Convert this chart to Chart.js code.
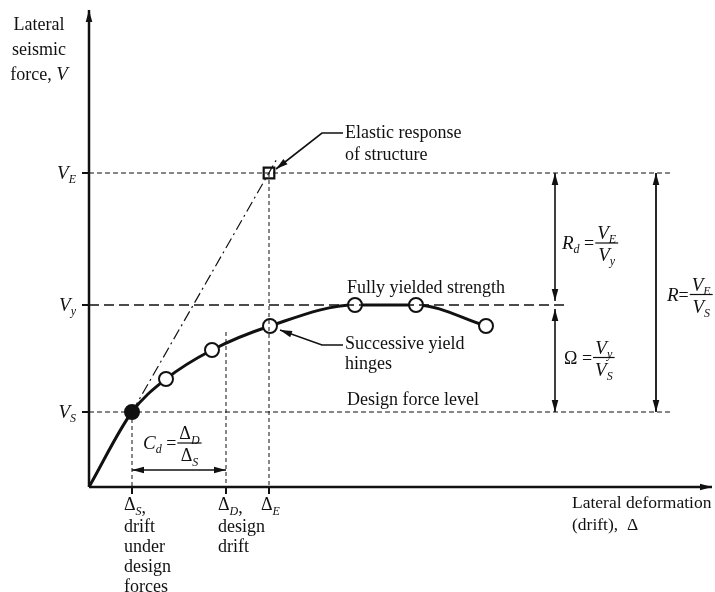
<!DOCTYPE html>
<html>
<head>
<meta charset="utf-8">
<script src="https://cdn.jsdelivr.net/npm/chart.js@4/dist/chart.umd.min.js"></script>
<style>
  html, body { margin: 0; padding: 0; background: #fff; }
</style>
</head>
<body>
<canvas id="pushover" width="715" height="592"></canvas>
<script>
// force levels (arbitrary units above the origin): V_E, V_y, V_S
const forceNames = ['E', 'y', 'S'];
const forceLevels = [314, 182, 75];
// drift levels: Δ_S, Δ_D, Δ_E
const driftNames = ['S', 'D', 'E'];
const driftLevels = [43, 137, 180];

// pushover curve: origin, first yield (V_S) and the successive hinges
const curveDrift = [0, 43, 77, 123, 181, 266, 327, 397];
const curveForce = [0, 75, 108, 137, 161, 182, 182, 161];

// elastic response line (dash-dot), through the V_S point and past V_E
const elasticDrift = [43, 189];
const elasticForce = [75, 330];

// leader lines for the callouts
const leaderElasticX = [254, 233, 187];
const leaderElasticY = [354, 354, 318];
const leaderHingeX = [254, 233, 191];
const leaderHingeY = [142, 142, 157];

// extents of the construction lines
const axisTop = 477;
const axisRight = 623;
const levelLineEnd = [583, 478, 583];
const ratioArrowX = [466, 567];
const designDriftTop = 155;
const cdArrowForce = 17;

const INK = '#111';
const SERIF = '"Liberation Serif", "DejaVu Serif", serif';
const F = s => `${s}px ${SERIF}`;
const FI = s => `italic ${s}px ${SERIF}`;
const TXT = 18;

const pts = (xs, ys) => xs.map((x, i) => ({ x: x, y: ys[i] }));
const seg = (x0, y0, x1, y1) => [{ x: x0, y: y0 }, { x: x1, y: y1 }];

function line(data, extra) {
  return Object.assign({
    data: data, showLine: true, borderColor: INK, borderWidth: 1.2,
    pointRadius: 0, pointHoverRadius: 0, tension: 0
  }, extra || {});
}

const datasets = [];
// axes
datasets.push(line(seg(0, 0, 0, axisTop), { borderWidth: 2.5, arrows: 'end' }));
datasets.push(line(seg(0, 0, axisRight, 0), { borderWidth: 2.5, arrows: 'end' }));
// axis ticks
forceLevels.forEach(f => datasets.push(line(seg(-7, f, 0, f), { borderWidth: 2 })));
driftLevels.forEach(d => datasets.push(line(seg(d, 0, d, -7), { borderWidth: 2 })));
// horizontal force levels
forceLevels.forEach((f, i) => datasets.push(line(seg(0, f, levelLineEnd[i], f), {
  borderDash: i === 1 ? [10, 5] : [5, 3], borderWidth: i === 1 ? 1.5 : 1.2
})));
// vertical drift levels
datasets.push(line(seg(driftLevels[0], forceLevels[2], driftLevels[0], 0), { borderDash: [4, 3], borderWidth: 1 }));
datasets.push(line(seg(driftLevels[1], designDriftTop, driftLevels[1], 0), { borderDash: [4, 3], borderWidth: 1 }));
datasets.push(line(seg(driftLevels[2], forceLevels[0], driftLevels[2], 0), { borderDash: [4, 3], borderWidth: 1 }));
// elastic response
datasets.push(line(pts(elasticDrift, elasticForce), { borderDash: [11, 4, 2, 4], borderWidth: 1.2 }));
// ratio arrows
datasets.push(line(seg(ratioArrowX[0], forceLevels[0], ratioArrowX[0], forceLevels[1] + 4), { arrows: 'both', borderWidth: 1.6 }));
datasets.push(line(seg(ratioArrowX[0], forceLevels[1] - 4, ratioArrowX[0], forceLevels[2]), { arrows: 'both', borderWidth: 1.6 }));
datasets.push(line(seg(ratioArrowX[1], forceLevels[0], ratioArrowX[1], forceLevels[2]), { arrows: 'both', borderWidth: 1.8 }));
datasets.push(line(seg(driftLevels[0], cdArrowForce, driftLevels[1], cdArrowForce), { arrows: 'both', borderWidth: 1.6 }));
// leaders
datasets.push(line(pts(leaderElasticX, leaderElasticY), { arrows: 'end', borderWidth: 1.6 }));
datasets.push(line(pts(leaderHingeX, leaderHingeY), { arrows: 'end', borderWidth: 1.6 }));
// pushover curve with hinges
datasets.push(line(pts(curveDrift, curveForce), {
  borderWidth: 3, cubicInterpolationMode: 'monotone',
  pointRadius: curveDrift.map((d, i) => i === 0 ? 0 : 7),
  pointBackgroundColor: curveDrift.map((d, i) => i === 1 ? INK : '#fff'),
  pointBorderColor: INK, pointBorderWidth: 2
}));
// elastic response point
datasets.push({
  data: [{ x: driftLevels[2], y: forceLevels[0] }], showLine: false,
  pointStyle: 'rect', pointRadius: 7.5, pointBackgroundColor: '#fff',
  pointBorderColor: INK, pointBorderWidth: 2.2
});

const arrowHeads = {
  id: 'arrowHeads',
  afterDatasetsDraw(chart) {
    const ctx = chart.ctx;
    chart.data.datasets.forEach((ds, i) => {
      if (!ds.arrows) return;
      const p = chart.getDatasetMeta(i).data;
      const head = (from, to) => {
        const a = Math.atan2(to.y - from.y, to.x - from.x);
        ctx.save();
        ctx.translate(to.x, to.y);
        ctx.rotate(a);
        ctx.beginPath();
        ctx.moveTo(0, 0);
        ctx.lineTo(-12, -3.3);
        ctx.lineTo(-12, 3.3);
        ctx.closePath();
        ctx.fillStyle = INK;
        ctx.fill();
        ctx.restore();
      };
      const n = p.length;
      head(p[n - 2], p[n - 1]);
      if (ds.arrows === 'both') head(p[1], p[0]);
    });
  }
};

function runWidth(ctx, parts) {
  let w = 0;
  parts.forEach(p => { ctx.font = p[1]; w += ctx.measureText(p[0]).width; });
  return w;
}
function run(ctx, parts, x, y, align) {
  const w = runWidth(ctx, parts);
  if (align === 'center') x -= w / 2;
  else if (align === 'right') x -= w;
  parts.forEach(p => {
    ctx.font = p[1];
    ctx.fillText(p[0], x, y + (p[2] || 0));
    x += ctx.measureText(p[0]).width;
  });
  return w;
}
const V = sub => [['V', FI(19)], [sub, FI(12), 4]];
const D = sub => [['Δ', F(18)], [sub, FI(12), 5]];
function frac(ctx, num, den, x, bar) {
  const w = Math.max(runWidth(ctx, num), runWidth(ctx, den)) + 4;
  run(ctx, num, x + w / 2, bar - 4, 'center');
  run(ctx, den, x + w / 2, bar + 18, 'center');
  ctx.fillRect(x, bar - 0.6, w, 1.2);
  return w;
}
function formula(ctx, lhs, num, den, x, bar) {
  const w = run(ctx, lhs, x, bar + 6);
  frac(ctx, num, den, x + w + 1, bar);
}

const labels = {
  id: 'labels',
  afterDraw(chart) {
    const ctx = chart.ctx;
    const X = v => chart.scales.x.getPixelForValue(v);
    const Y = v => chart.scales.y.getPixelForValue(v);
    ctx.save();
    ctx.fillStyle = INK;
    ctx.textBaseline = 'alphabetic';

    // vertical axis title
    const tx = X(0) - 50, ty = Y(axisTop);
    run(ctx, [['Lateral', F(TXT)]], tx, ty + 20, 'center');
    run(ctx, [['seismic', F(TXT)]], tx, ty + 45, 'center');
    run(ctx, [['force, ', F(TXT)], ['V', FI(19)]], tx, ty + 70, 'center');

    // force level names
    forceLevels.forEach((f, i) => run(ctx, V(forceNames[i]), X(0) - 13, Y(f) + 6, 'right'));

    // drift level names
    driftLevels.forEach((d, i) => {
      const parts = D(driftNames[i]).concat(i < 2 ? [[',', F(TXT), 3]] : []);
      run(ctx, parts, X(d) - 8, Y(0) + 23);
    });
    ['drift', 'under', 'design', 'forces'].forEach((t, k) =>
      run(ctx, [[t, F(TXT)]], X(driftLevels[0]) - 8, Y(0) + 45 + 20 * k));
    ['design', 'drift'].forEach((t, k) =>
      run(ctx, [[t, F(TXT)]], X(driftLevels[1]) - 8, Y(0) + 45 + 20 * k));

    // horizontal axis title
    run(ctx, [['Lateral deformation', F(17.5)]], X(axisRight) - 140, Y(0) + 21);
    run(ctx, [['(drift),  Δ', F(17.5)]], X(axisRight) - 140, Y(0) + 43);

    // callouts
    const ex = X(driftLevels[2]) + 76, ey = Y(forceLevels[0]);
    run(ctx, [['Elastic response', F(TXT)]], ex, ey - 35);
    run(ctx, [['of structure', F(TXT)]], ex, ey - 13);
    run(ctx, [['Fully yielded strength', F(TXT)]], X(curveDrift[5]) - 8, Y(forceLevels[1]) - 12);
    run(ctx, [['Successive yield', F(TXT)]], X(curveDrift[4]) + 75, Y(curveForce[4]) + 23);
    run(ctx, [['hinges', F(TXT)]], X(curveDrift[4]) + 75, Y(curveForce[4]) + 43);
    run(ctx, [['Design force level', F(TXT)]], X(curveDrift[5]) - 8, Y(forceLevels[2]) - 7);

    // ratios
    const rdBar = (Y(forceLevels[0]) + Y(forceLevels[1])) / 2 + 4;
    formula(ctx, [['R', FI(19)], ['d', FI(12), 4], [' =', F(18)]], V('E'), V('y'), X(ratioArrowX[0]) + 7, rdBar);
    const omBar = (Y(forceLevels[1]) + Y(forceLevels[2])) / 2 - 1;
    formula(ctx, [['Ω', F(18)], [' =', F(18)]], V('y'), V('S'), X(ratioArrowX[0]) + 9, omBar);
    const rBar = (Y(forceLevels[0]) + Y(forceLevels[2])) / 2 + 2;
    formula(ctx, [['R', FI(19)], ['=', F(18)]], V('E'), V('S'), X(ratioArrowX[1]) + 11, rBar);
    formula(ctx, [['C', FI(19)], ['d', FI(12), 4], [' =', F(18)]], D('D'), D('S'), X(driftLevels[0]) + 11, Y(cdArrowForce) - 27);

    ctx.restore();
  }
};

new Chart(document.getElementById('pushover'), {
  type: 'scatter',
  data: { datasets: datasets },
  options: {
    responsive: false,
    animation: false,
    devicePixelRatio: 1,
    layout: { padding: 0, autoPadding: false },
    scales: {
      x: { type: 'linear', min: -89, max: 626, display: false },
      y: { type: 'linear', min: -105, max: 487, display: false }
    },
    plugins: { legend: { display: false }, tooltip: { enabled: false } },
    events: []
  },
  plugins: [arrowHeads, labels]
});
</script>
</body>
</html>
